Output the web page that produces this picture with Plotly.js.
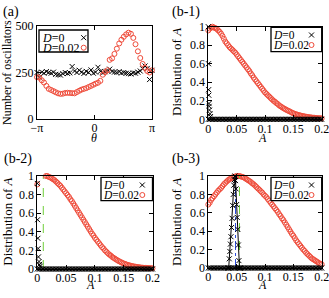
<!DOCTYPE html>
<html><head><meta charset="utf-8">
<script src="https://cdn.plot.ly/plotly-3.0.1.min.js"></script>
<style>html,body{margin:0;padding:0;background:#fff}#c{width:329px;height:298px}</style>
</head><body><div id="c"></div>
<script>
// ---- panel (a): number of oscillators vs theta ----
const thetaA = [-3.14,-3.01,-2.88,-2.76,-2.63,-2.50,-2.37,-2.24,-2.12,-1.99,-1.86,-1.73,-1.60,-1.47,-1.35,-1.22,-1.09,-0.96,-0.83,-0.71,-0.58,-0.45,-0.32,-0.19,-0.06,0.06,0.19,0.32,0.45,0.58,0.71,0.83,0.96,1.09,1.22,1.35,1.47,1.60,1.73,1.86,1.99,2.12,2.24,2.37,2.50,2.63,2.76,2.88,3.01,3.14];
const countD0 = [250,225,252,246,255,250,246,252,240,238,236,244,250,245,248,282,258,250,262,252,245,256,250,264,246,252,278,256,248,254,258,268,256,252,250,255,247,250,246,244,242,248,246,252,258,270,285,272,212,262];
const countD002 = [225,222,208,196,178,162,156,150,144,138,135,136,140,141,140,139,138,145,152,158,162,166,172,178,184,190,195,205,238,252,262,318,326,350,378,406,426,442,455,464,458,436,402,364,328,296,275,258,250,262];
const thetaTickVals = [-3.14159, 0, 3.14159];
const thetaTickText = ['\u2212\u03c0', '0', '\u03c0'];
const countTicks = [0, 250, 500];

// ---- panels (b): distribution of A ----
const aGrid = [0,0.0025,0.005,0.0075,0.01,0.0125,0.015,0.0175,0.02,0.0225,0.025,0.0275,0.03,0.0325,0.035,0.0375,0.04,0.0425,0.045,0.0475,0.05,0.0525,0.055,0.0575,0.06,0.0625,0.065,0.0675,0.07,0.0725,0.075,0.0775,0.08,0.0825,0.085,0.0875,0.09,0.0925,0.095,0.0975,0.1,0.1025,0.105,0.1075,0.11,0.1125,0.115,0.1175,0.12,0.1225,0.125,0.1275,0.13,0.1325,0.135,0.1375,0.14,0.1425,0.145,0.1475,0.15,0.1525,0.155,0.1575,0.16,0.1625,0.165,0.1675,0.17,0.1725,0.175,0.1775,0.18,0.1825,0.185,0.1875,0.19,0.1925,0.195,0.1975,0.2];
const bandF = [0,0,0,0,0,0,0,0,0,0,0,0,0,0,0,0,0,0,0,0,0,0,0,0,0,0,0,0,0,0,0,0,0,0,0,0,0,0,0,0,0,0,0,0,0,0,0,0,0,0,0,0,0,0,0,0,0,0,0,0,0,0,0,0,0,0,0,0,0,0,0,0,0,0,0,0,0,0,0,0,0];

const b1RedF = [0.96,0.98,0.99,1.00,0.99,0.985,0.975,0.96,0.945,0.925,0.90,0.87,0.84,0.82,0.80,0.78,0.765,0.75,0.735,0.72,
  0.70,0.68,0.66,0.64,0.62,0.60,0.58,0.56,0.54,0.52,
  0.495,0.475,0.45,0.43,0.41,0.39,0.37,0.35,0.33,0.31,
  0.29,0.275,0.26,0.245,0.23,0.215,0.20,0.19,0.175,0.165,
  0.15,0.14,0.13,0.12,0.112,0.103,0.095,0.088,0.08,0.072,
  0.065,0.059,0.054,0.049,0.045,0.041,0.037,0.034,0.031,0.028,
  0.025,0.023,0.021,0.019,0.017,0.016,0.014,0.013,0.012,0.011,0.01];
const b1BlackA = [0,0.0003,0.0006,0.0009,0.0012,0.0015,0.002,0.003,0.004];
const b1BlackF = [1.0,0.6,0.32,0.26,0.17,0.14,0.1,0.06,0.03];

const b2RedA = [0,0.015,0.0175,0.02,0.0225,0.025,0.0275,0.03,0.0325,0.035,0.0375,0.04,0.0425,0.045,0.0475,0.05,0.0525,0.055,0.0575,0.06,0.0625,0.065,0.0675,0.07,0.0725,0.075,0.0775,0.08,0.0825,0.085,0.0875,0.09,0.0925,0.095,0.0975,0.1,0.1025,0.105,0.1075,0.11,0.1125,0.115,0.1175,0.12,0.1225,0.125,0.1275,0.13,0.1325,0.135,0.1375,0.14,0.1425,0.145,0.1475,0.15,0.1525,0.155,0.1575,0.16,0.1625,0.165,0.1675,0.17,0.1725,0.175,0.1775,0.18,0.1825,0.185,0.1875,0.19,0.1925,0.195,0.1975,0.2];
const b2RedF = [0.91,1.0,1.0,0.99,0.985,0.975,0.965,0.955,0.94,0.925,0.91,0.895,0.875,0.855,0.835,0.815,0.795,0.775,0.75,0.73,0.705,0.68,0.655,0.63,0.605,0.58,0.555,0.53,0.505,0.48,0.455,0.43,0.405,0.38,0.36,0.335,0.315,0.295,0.275,0.255,0.235,0.22,0.20,0.185,0.17,0.155,0.145,0.13,0.12,0.11,0.10,0.09,0.082,0.074,0.066,0.06,0.054,0.048,0.043,0.039,0.035,0.031,0.028,0.025,0.022,0.02,0.018,0.016,0.014,0.013,0.012,0.011,0.01,0.009,0.008,0.008];
const b2BlackA = [0,0.0005,0.001,0.0015,0.002,0.003,0.004,0.005];
const b2BlackF = [0.92,0.53,0.33,0.22,0.13,0.08,0.05,0.03];
const b2GreenA = 0.0104;

const b3RedF = [0.69,0.71,0.74,0.76,0.78,0.80,0.82,0.84,0.855,0.87,0.89,0.91,0.925,0.94,0.955,0.965,0.975,0.985,0.99,0.995,
  1.0,1.0,1.0,0.995,0.99,0.985,0.975,0.965,0.955,0.945,
  0.935,0.92,0.91,0.895,0.88,0.865,0.85,0.835,0.82,0.80,
  0.785,0.77,0.75,0.73,0.71,0.69,0.67,0.65,0.63,0.61,
  0.585,0.565,0.54,0.52,0.495,0.47,0.445,0.42,0.395,0.37,
  0.35,0.325,0.30,0.28,0.26,0.24,0.22,0.20,0.185,0.165,
  0.15,0.135,0.12,0.105,0.095,0.085,0.075,0.065,0.055,0.045,0.04];
const b3BlackA = [0.035,0.036,0.037,0.038,0.039,0.040,0.041,0.042,0.043,0.044,0.045,0.046,0.047,0.048,0.049,0.050,0.051,0.052,0.053,0.054,0.055,0.056];
const b3BlackF = [0,0,0.1,0.18,0.26,0.34,0.44,0.54,0.68,0.8,0.9,0.96,1.0,0.95,0.86,0.69,0.55,0.42,0.25,0.08,0,0];
const b3BlueA = 0.048;
const b3GreenA = 0.055;

const aTickVals = [0,0.05,0.1,0.15,0.2];
const aTickText = ['0','0.05','0.1','0.15','0.2'];
const fTickVals = [0,0.2,0.4,0.6,0.8,1];
const fTickText = ['0','0.2','0.4','0.6','0.8','1'];

// ---- styling ----
const W = 329, H = 298;
const SERIF = 'Liberation Serif, Times New Roman, serif';
const RED = '#ef4b3a';
const px = x => x / W;
const py = y => 1 - y / H;

function axis(domain, range, tv, tt, anchor, isX) {
  const a = {domain, range, anchor, tickmode:'array', tickvals:tv, ticktext:tt,
    showline:true, mirror:'ticks', linecolor:'#000', linewidth:1,
    ticks:'inside', ticklen:4, tickwidth:1, tickcolor:'#000',
    showgrid:false, zeroline:false, fixedrange:true, ticklabeloverflow:'allow',
    tickfont:{family:SERIF, size:12, color:'#000'}};
  if (isX) a.ticklabelstandoff = -2;
  return a;
}
const crossM = {symbol:'x-thin', size:5, color:'#000', line:{width:1, color:'#000'}};
const circM = {symbol:'circle-open', size:5, color:RED, line:{width:1, color:RED}};

const traces = [
  {x:thetaA, y:countD0, xaxis:'x', yaxis:'y', mode:'markers', marker:crossM, cliponaxis:false},
  {x:thetaA, y:countD002, xaxis:'x', yaxis:'y', mode:'markers', marker:circM, cliponaxis:false},

  {x:aGrid, y:b1RedF, xaxis:'x2', yaxis:'y2', mode:'markers', marker:circM, cliponaxis:false},
  {x:aGrid, y:bandF, xaxis:'x2', yaxis:'y2', mode:'markers', marker:crossM, cliponaxis:false},
  {x:b1BlackA, y:b1BlackF, xaxis:'x2', yaxis:'y2', mode:'markers', marker:crossM, cliponaxis:false},

  {x:[b2GreenA,b2GreenA], y:[0,1], xaxis:'x3', yaxis:'y3', mode:'lines', line:{color:'#6fcf3a', width:1, dash:'dash'}},
  {x:b2RedA, y:b2RedF, xaxis:'x3', yaxis:'y3', mode:'markers', marker:circM, cliponaxis:false},
  {x:aGrid, y:bandF, xaxis:'x3', yaxis:'y3', mode:'markers', marker:crossM, cliponaxis:false},
  {x:b2BlackA, y:b2BlackF, xaxis:'x3', yaxis:'y3', mode:'markers', marker:crossM, cliponaxis:false},

  {x:aGrid, y:b3RedF, xaxis:'x4', yaxis:'y4', mode:'markers', marker:circM, cliponaxis:false},
  {x:[b3GreenA,b3GreenA], y:[0,1], xaxis:'x4', yaxis:'y4', mode:'lines', line:{color:'#6fcf3a', width:1, dash:'dash'}},
  {x:[b3BlueA,b3BlueA], y:[0,1], xaxis:'x4', yaxis:'y4', mode:'lines', line:{color:'#2a4bdc', width:1, dash:'dashdot'}},
  {x:aGrid, y:bandF, xaxis:'x4', yaxis:'y4', mode:'markers', marker:crossM, cliponaxis:false},
  {x:b3BlackA, y:b3BlackF, xaxis:'x4', yaxis:'y4', mode:'lines+markers', line:{color:'#000', width:1}, marker:crossM, cliponaxis:false}
];

const shapes = [], annotations = [];
function legendBox(x0, y0, x1, y1, tx, ty1, ty2, sx, fs) {
  shapes.push({type:'rect', xref:'paper', yref:'paper', x0:px(x0), x1:px(x1), y0:py(y1), y1:py(y0),
    fillcolor:'#fff', line:{color:'#000', width:1.3}, layer:'above'});
  const r = 2.5;
  shapes.push({type:'line', xref:'paper', yref:'paper', x0:px(sx-r), x1:px(sx+r), y0:py(ty1-r), y1:py(ty1+r), line:{color:'#000', width:1}});
  shapes.push({type:'line', xref:'paper', yref:'paper', x0:px(sx-r), x1:px(sx+r), y0:py(ty1+r), y1:py(ty1-r), line:{color:'#000', width:1}});
  shapes.push({type:'circle', xref:'paper', yref:'paper', x0:px(sx-r), x1:px(sx+r), y0:py(ty2+r), y1:py(ty2-r), line:{color:RED, width:1}});
  annotations.push({text:'<i>D</i>=0', xref:'paper', yref:'paper', x:px(tx), y:py(ty1), xanchor:'left', yanchor:'middle', showarrow:false, font:{family:SERIF, size:fs, color:'#000'}});
  annotations.push({text:'<i>D</i>=0.02', xref:'paper', yref:'paper', x:px(tx), y:py(ty2), xanchor:'left', yanchor:'middle', showarrow:false, font:{family:SERIF, size:fs, color:'#000'}});
}
legendBox(39, 30, 88, 52, 40, 37.7, 47.7, 83.7, 12);
legendBox(271, 27.3, 321.7, 51.7, 271, 35, 45, 311.5, 11.5);
legendBox(101, 177.3, 152.5, 200.7, 101, 185, 195, 142.3, 11.5);
legendBox(271, 177.3, 321.7, 200.7, 271, 185, 195, 311.5, 11.5);

function label(text, x, y, opts) {
  annotations.push(Object.assign({text, xref:'paper', yref:'paper', x:px(x), y:py(y), showarrow:false,
    font:{family:SERIF, size:12, color:'#000'}}, opts));
}
label('(a)', 1, 2, {xanchor:'left', yanchor:'top', font:{family:SERIF, size:14, color:'#000'}});
label('(b-1)', 170, 2, {xanchor:'left', yanchor:'top', font:{family:SERIF, size:14, color:'#000'}});
label('(b-2)', 2, 148.5, {xanchor:'left', yanchor:'top', font:{family:SERIF, size:14, color:'#000'}});
label('(b-3)', 170, 148.5, {xanchor:'left', yanchor:'top', font:{family:SERIF, size:14, color:'#000'}});

label('Number of oscillators', 6.5, 72.5, {textangle:-90, xanchor:'center', yanchor:'middle'});
label('Distribution of <i>A</i>', 176, 72, {textangle:-90, xanchor:'center', yanchor:'middle', font:{family:SERIF, size:13, color:'#000'}});
label('Distribution of <i>A</i>', 6.7, 222, {textangle:-90, xanchor:'center', yanchor:'middle', font:{family:SERIF, size:13, color:'#000'}});
label('Distribution of <i>A</i>', 176, 222, {textangle:-90, xanchor:'center', yanchor:'middle', font:{family:SERIF, size:13, color:'#000'}});

label('<i>\u03b8</i>', 94.3, 137.5, {xanchor:'center', yanchor:'middle', font:{family:SERIF, size:12, color:'#000'}});
label('<i>A</i>', 262, 137.5, {xanchor:'center', yanchor:'middle', font:{family:SERIF, size:12, color:'#000'}});
label('<i>A</i>', 90, 285, {xanchor:'center', yanchor:'middle', font:{family:SERIF, size:12, color:'#000'}});
label('<i>A</i>', 262, 285, {xanchor:'center', yanchor:'middle', font:{family:SERIF, size:12, color:'#000'}});

const layout = {
  width:W, height:H, margin:{l:0, r:0, t:0, b:0}, showlegend:false,
  paper_bgcolor:'#fff', plot_bgcolor:'#fff',
  xaxis: axis([px(37), px(152)], [-Math.PI, Math.PI], thetaTickVals, thetaTickText, 'y', true),
  yaxis: axis([py(119), py(26)], [0, 500], countTicks, countTicks.map(String), 'x', false),
  xaxis2: axis([px(208.3), px(321.7)], [0, 0.2], aTickVals, aTickText, 'y2', true),
  yaxis2: axis([py(119.3), py(26.7)], [0, 1], fTickVals, fTickText, 'x2', false),
  xaxis3: axis([px(37.3), px(152.5)], [0, 0.2], aTickVals, aTickText, 'y3', true),
  yaxis3: axis([py(269), py(176)], [0, 1], fTickVals, fTickText, 'x3', false),
  xaxis4: axis([px(208.3), px(321.7)], [0, 0.2], aTickVals, aTickText, 'y4', true),
  yaxis4: axis([py(268), py(176)], [0, 1], fTickVals, fTickText, 'x4', false),
  shapes, annotations
};
Plotly.newPlot('c', traces, layout, {staticPlot:true, displayModeBar:false});
</script></body></html>
